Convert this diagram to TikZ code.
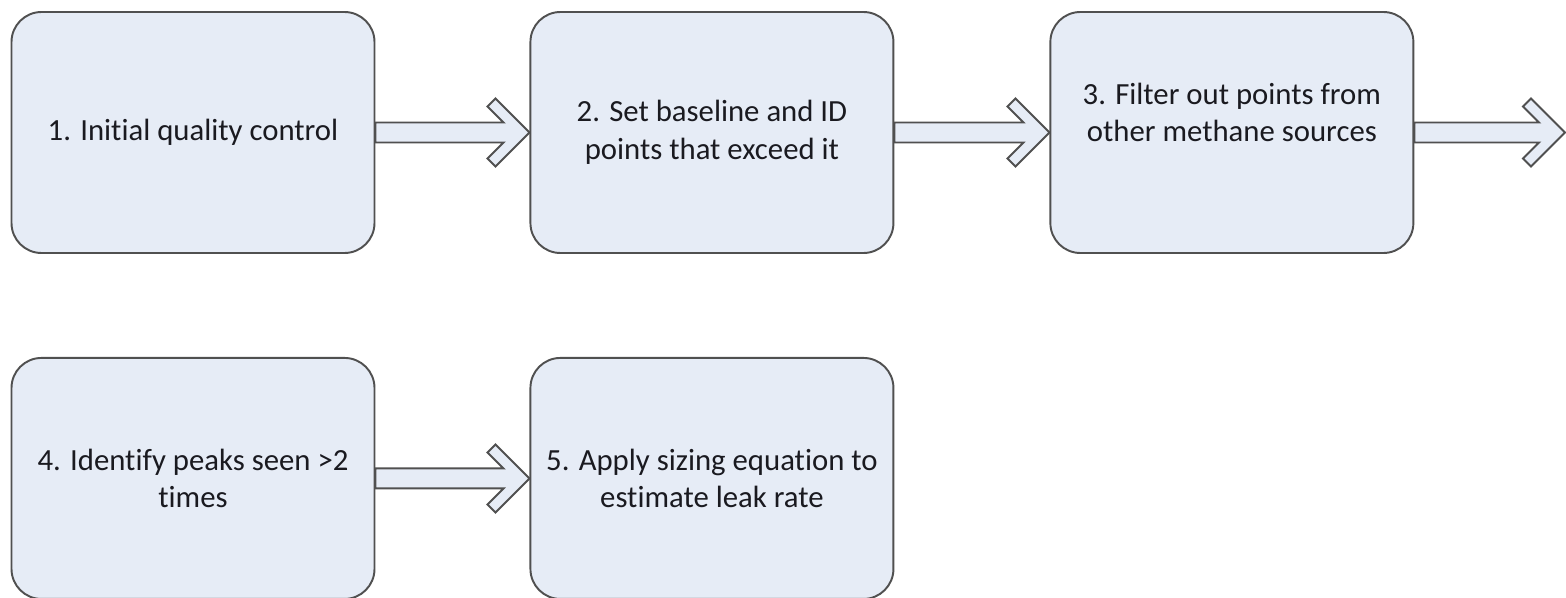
\documentclass[tikz,border=0pt]{standalone}
\usepackage{fontspec}
\setmainfont{Carlito}[Ligatures=NoCommon]
\usetikzlibrary{positioning,calc}

\definecolor{boxfill}{RGB}{230,236,246}
\definecolor{boxline}{RGB}{80,80,80}
\definecolor{boxtext}{RGB}{26,26,32}

\tikzset{
	steptext/.style={font=\fontsize{17.5}{21.5}\selectfont, text=boxtext, align=center},
	stepbox/.style={draw=boxline, line width=1.1pt, fill=boxfill, rounded corners=0.6cm,
		minimum width=7.26cm, minimum height=4.82cm, inner sep=0pt, steptext},
	steparrow/.style={draw=boxline, line width=1.1pt, fill=boxfill, line join=miter}
}

\newcommand{\steparrow}[2]{%
	\draw[steparrow] ($(#1.east)+(0,0.2)$) -- ($(#2)+(-0.52,0.2)$) -- ++(-0.32,0.32) -- ++(0.16,0.16)
		-- (#2) -- ++(-0.68,-0.68) -- ++(-0.16,0.16) -- ++(0.32,0.32) -- ($(#1.east)+(0,-0.2)$) -- cycle;}

\begin{document}
\begin{tikzpicture}
	\useasboundingbox (0,0) rectangle (31.32,11.94);
	\node[stepbox] (qc) at (3.86,9.29) {1. Initial quality control};
	\node[stepbox, right=3.08cm of qc] (baseline) {2. Set baseline and ID\\points that exceed it};
	\node[stepbox, right=3.1cm of baseline,
		label={[steptext, yshift=0.4cm]center:{3. Filter out points from\\other methane sources}}] (filter) {};
	\node[stepbox, below=2.06cm of qc] (peaks) {4. Identify peaks seen >2\\times};
	\node[stepbox, right=3.08cm of peaks] (sizing) {5. Apply sizing equation to\\estimate leak rate};
	\coordinate (next) at (31.3,9.29);
	\steparrow{qc}{baseline.west}
	\steparrow{baseline}{filter.west}
	\steparrow{filter}{next}
	\steparrow{peaks}{sizing.west}
\end{tikzpicture}
\end{document}
